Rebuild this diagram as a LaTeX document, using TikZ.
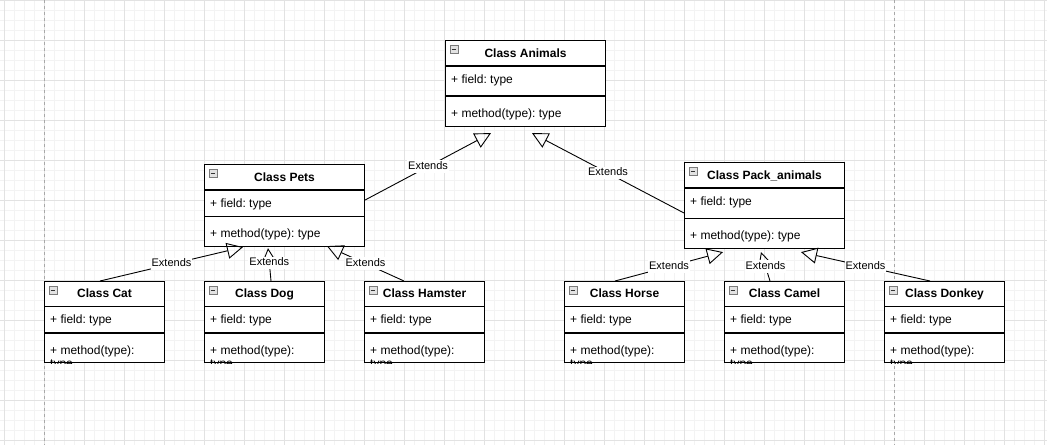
\documentclass[tikz,border=0pt]{standalone}
\usepackage{fontspec}
\setmainfont{Liberation Sans}
\usetikzlibrary{arrows.meta,calc}
\frenchspacing
\definecolor{gridminor}{HTML}{F3F3F3}
\definecolor{gridmajor}{HTML}{E2E2E2}
\definecolor{pageline}{HTML}{A8A8A8}
\definecolor{iconfill}{HTML}{E2E2E2}
\definecolor{iconedge}{HTML}{7A7A7A}
\definecolor{icondash}{HTML}{333333}
\tikzset{
  clsbox/.style={draw=black, fill=white, line width=1.1pt, inner sep=0pt, rectangle},
  clsline/.style={draw=black, line width=1.1pt},
  clstitle/.style={font=\fontsize{12}{14}\selectfont\bfseries\frenchspacing, inner sep=0pt, text height=8.6pt, text depth=2.5pt, yshift=-1pt},
  member/.style={font=\fontsize{12}{14}\selectfont\frenchspacing, inner sep=0pt, anchor=west, text height=8.6pt, text depth=2.5pt, yshift=-1pt},
  collapseicon/.style={draw=iconedge, fill=iconfill, line width=0.7pt, minimum size=8pt, inner sep=0pt, rectangle},
  iconminus/.style={draw=icondash, line width=0.9pt},
  ext/.style={draw=black, line width=0.9pt, -{Triangle[open, length=16pt, width=16pt]}},
  extlabel/.style={font=\fontsize{11}{13}\selectfont, fill=white, inner sep=1pt, text height=8pt, text depth=2.2pt},
  gridminorline/.style={draw=gridminor, line width=1pt},
  gridmajorline/.style={draw=gridmajor, line width=1pt},
  pagelinestyle/.style={draw=pageline, line width=1pt, dash pattern=on 3pt off 3pt},
}
% #1 name, #2 x, #3 y, #4 width, #5 height, #6 header height, #7 separator offset, #8 title
\newcommand\UmlClassFrame[8]{%
  \node[clsbox, anchor=north west, minimum width=#4pt, minimum height=#5pt] (#1) at (#2,#3) {};
  \draw[clsline] ($(#1.north west)+(0,#6)$) -- ($(#1.north east)+(0,#6)$);
  \draw[clsline] ($(#1.north west)+(0,#7)$) -- ($(#1.north east)+(0,#7)$);
  \node[clstitle] (#1-title) at ($(#1.north)+(0,#6/2)$) {#8};
  \node[collapseicon] (#1-icon) at ($(#1.north west)+(9,9.7)$) {};
  \draw[iconminus] ($(#1-icon.center)+(-2.4,0)$) -- ($(#1-icon.center)+(2.4,0)$);
  \node[member] (#1-field) at ($(#1.north west)+(6,#6+13)$) {+ field: type};
}
% #1 name, #2 separator offset
\newcommand\UmlMethodOne[2]{%
  \node[member] (#1-method) at ($(#1.north west)+(6,#2+17)$) {+ method(type): type};
}
\newcommand\UmlMethodTwo[2]{%
  \node[member] (#1-method) at ($(#1.north west)+(6,#2+17)$) {+ method(type):};
  \begin{scope}
    \clip ($(#1.north west)+(0,0)$) rectangle ($(#1.south east)+(0,0.8)$);
    \node[member] (#1-methodb) at ($(#1.north west)+(6,#2+30.2)$) {type};
  \end{scope}
}
\begin{document}
\begin{tikzpicture}[x=1pt, y=-1pt]
\useasboundingbox (0,0) rectangle (1047,445);
% background grid
\foreach \x in {4,14,...,1044} \draw[gridminorline] (\x,0) -- (\x,445);
\foreach \y in {10,20,...,440} \draw[gridminorline] (0,\y) -- (1047,\y);
\foreach \x in {4,44,...,1044} \draw[gridmajorline] (\x,0) -- (\x,445);
\foreach \y in {0,40,...,440} \draw[gridmajorline] (0,\y) -- (1047,\y);
\draw[pagelinestyle] (44,0) -- (44,445);
\draw[pagelinestyle] (894,0) -- (894,445);

% classes
\UmlClassFrame{animals}{445}{40}{160}{86}{26}{56}{Class Animals}
\UmlMethodOne{animals}{56}
\UmlClassFrame{pets}{204}{164}{160}{82}{26}{52.5}{Class Pets}
\UmlMethodOne{pets}{52.5}
\UmlClassFrame{pack}{684}{162}{160}{86}{26}{56.5}{Class Pack\_animals}
\UmlMethodOne{pack}{56.5}

\UmlClassFrame{cat}{44}{281}{120}{81}{25.5}{52}{Class Cat}
\UmlMethodTwo{cat}{52}
\UmlClassFrame{dog}{204}{281}{120}{81}{25.5}{52}{Class Dog}
\UmlMethodTwo{dog}{52}
\UmlClassFrame{hamster}{364}{281}{120}{81}{25.5}{52}{Class Hamster}
\UmlMethodTwo{hamster}{52}
\UmlClassFrame{horse}{564}{281}{120}{81}{25.5}{52}{Class Horse}
\UmlMethodTwo{horse}{52}
\UmlClassFrame{camel}{724}{281}{120}{81}{25.5}{52}{Class Camel}
\UmlMethodTwo{camel}{52}
\UmlClassFrame{donkey}{884}{281}{120}{81}{25.5}{52}{Class Donkey}
\UmlMethodTwo{donkey}{52}

% generalisation connectors
\draw[ext] ($(pets.north east)+(0,36)$) -- ($(animals.south west)+(46,6)$)
  node[extlabel, pos=0.5] {Extends};
\draw[ext] ($(pack.north west)+(0,51)$) -- ($(animals.south west)+(87,6)$)
  node[extlabel, pos=0.5] {Extends};
\draw[ext] ($(cat.north west)+(56,0)$) -- ($(pets.south west)+(39,0)$)
  node[extlabel, pos=0.5] {Extends};
\draw[ext] ($(dog.north west)+(67,0)$) -- ($(pets.south west)+(64,1)$)
  node[extlabel, pos=0.55] {Extends};
\draw[ext] ($(hamster.north west)+(40,0)$) -- ($(pets.south west)+(123,-1)$)
  node[extlabel, pos=0.5] {Extends};
\draw[ext] ($(horse.north west)+(51,0)$) -- ($(pack.south west)+(39,3)$)
  node[extlabel, pos=0.5] {Extends};
\draw[ext] ($(camel.north west)+(46,0)$) -- ($(pack.south west)+(77,3)$)
  node[extlabel, pos=0.5] {Extends};
\draw[ext] ($(donkey.north west)+(46,0)$) -- ($(pack.south west)+(117,3)$)
  node[extlabel, pos=0.5] {Extends};
\end{tikzpicture}
\end{document}
